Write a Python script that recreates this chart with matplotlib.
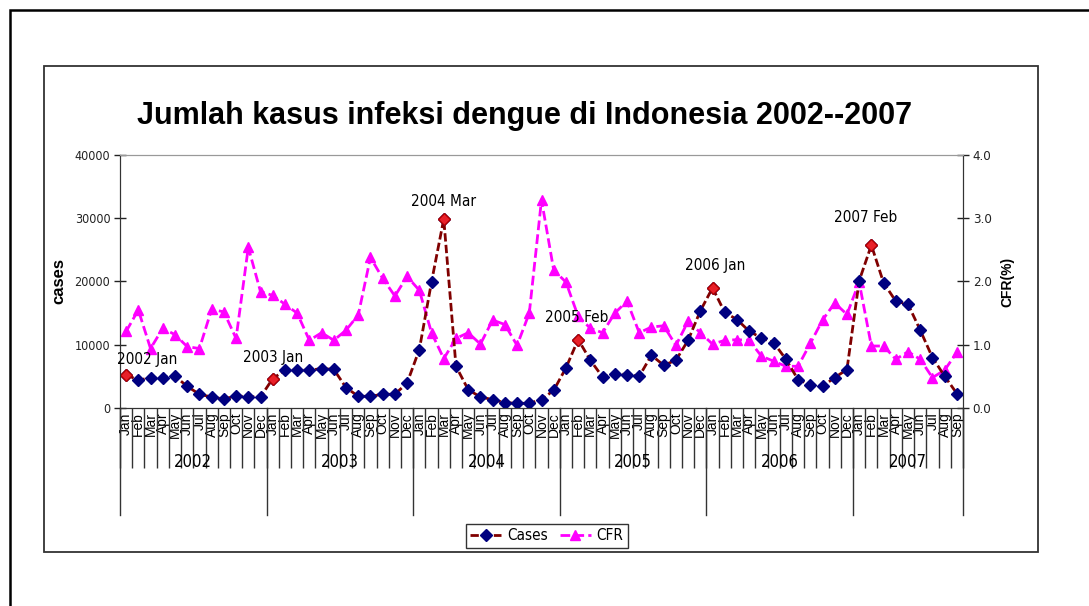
import matplotlib
matplotlib.use("Agg")
import matplotlib.pyplot as plt
import matplotlib.transforms as mtransforms
from matplotlib.patches import Rectangle
from matplotlib.lines import Line2D
import numpy as np

# ---------------- data ----------------
years = ["2002", "2003", "2004", "2005", "2006", "2007"]
months_per_year = [12, 12, 12, 12, 12, 9]
month_names = ["Jan", "Feb", "Mar", "Apr", "May", "Jun",
               "Jul", "Aug", "Sep", "Oct", "Nov", "Dec"]
month_labels = [m for n in months_per_year for m in month_names[:n]]

cases = [5290, 4380, 4810, 4810, 5020, 3430, 2170, 1740, 1420, 1900, 1800, 1740,
         4640, 5970, 5970, 5970, 6240, 6100, 3230, 1850, 1850, 2170, 2170, 3960,
         9240, 19950, 29870, 6600, 2900, 1740, 1330, 850, 740, 740, 1330, 2800,
         6330, 10830, 7550, 4900, 5440, 5290, 5020, 8340, 6760, 7550, 10710, 15350,
         19000, 15100, 13990, 12140, 11080, 10350, 7710, 4490, 3700, 3430, 4810, 6080,
         20100, 25750, 19790, 16890, 16410, 12300, 7980, 5020, 2280]

cfr = [1.21, 1.55, 0.94, 1.26, 1.16, 0.97, 0.94, 1.56, 1.52, 1.10, 2.54, 1.84,
       1.78, 1.64, 1.50, 1.07, 1.19, 1.07, 1.23, 1.47, 2.38, 2.05, 1.77, 2.08,
       1.86, 1.19, 0.78, 1.10, 1.19, 1.01, 1.39, 1.32, 0.99, 1.50, 3.29, 2.18,
       1.99, 1.45, 1.26, 1.19, 1.50, 1.69, 1.19, 1.28, 1.30, 0.99, 1.37, 1.19,
       1.01, 1.07, 1.08, 1.07, 0.82, 0.74, 0.66, 0.66, 1.02, 1.39, 1.66, 1.48,
       1.99, 0.98, 0.98, 0.77, 0.89, 0.77, 0.48, 0.60, 0.88]

peak_index = [0, 12, 26, 37, 48, 61]
peak_labels = ["2002 Jan", "2003 Jan", "2004 Mar", "2005 Feb", "2006 Jan", "2007 Feb"]

left_ticks = [0, 10000, 20000, 30000, 40000]
right_ticks = [0.0, 1.0, 2.0, 3.0, 4.0]

title = "Jumlah kasus infeksi dengue di Indonesia 2002--2007"

# ---------------- style ----------------
NARROW = ["Liberation Sans Narrow", "DejaVu Sans"]
ARIAL = ["Liberation Sans", "DejaVu Sans"]
label_offsets = [(15, 11), (0, 15), (0, 13), (-1, 16), (2, 16), (-4, 20)]

W, H = 1089, 606
fig = plt.figure(figsize=(W / 100, H / 100), dpi=100)

def fx(px):
    return px / W

def fy(py):
    return 1 - py / H

# outer frame (right and bottom edges lie outside the picture)
fig.patches.append(Rectangle((fx(10), fy(640)), fx(1120) - fx(10), fy(10) - fy(640),
                             transform=fig.transFigure, fill=False,
                             edgecolor="black", linewidth=1.8))
# inner chart frame
fig.patches.append(Rectangle((fx(44), fy(552)), fx(1038) - fx(44), fy(66) - fy(552),
                             transform=fig.transFigure, fill=False,
                             edgecolor="#333333", linewidth=1.3))

ax = fig.add_axes([fx(120), fy(408), fx(963) - fx(120), fy(155) - fy(408)])
ax2 = ax.twinx()
ax.set_zorder(ax2.get_zorder() + 1)
ax.patch.set_visible(False)

n = len(cases)
x = np.arange(n)

# CFR series
ax2.plot(x, cfr, color="#FF00FF", linestyle=(0, (3.5, 1.5)), linewidth=2.0,
         marker="^", markersize=7.5, markerfacecolor="#FF00FF",
         markeredgecolor="#FF00FF", label="CFR")
ax2.set_ylim(0, 4)
ax2.set_yticks(right_ticks)
ax2.set_yticklabels([f"{v:.1f}" for v in right_ticks], family=NARROW,
                    stretch="condensed", fontsize=9.5, color="#222222")
ax2.tick_params(axis="y", direction="inout", length=8, width=1, pad=3,
                colors="#222222")
ax2.set_ylabel("CFR(%)", fontsize=10, fontweight="bold", family=ARIAL,
               labelpad=6)

# Cases series
ax.plot(x, cases, color="#800000", linestyle=(0, (3, 1.2)), linewidth=2.0,
        marker="D", markersize=6, markerfacecolor="#000080",
        markeredgecolor="#000080", label="Cases")
ax.plot([x[i] for i in peak_index], [cases[i] for i in peak_index],
        linestyle="none", marker="D", markersize=6.5,
        markerfacecolor="#E8202A", markeredgecolor="#B00000")
for i, lab, off in zip(peak_index, peak_labels, label_offsets):
    ax.annotate(lab, xy=(x[i], cases[i]), xytext=off, textcoords="offset points",
                ha="center", va="center", family=NARROW, stretch="condensed",
                fontsize=11)

ax.set_ylim(0, 40000)
ax.set_xlim(-0.5, n - 0.5)
ax.set_yticks(left_ticks)
ax.set_yticklabels([str(v) for v in left_ticks], family=NARROW,
                   stretch="condensed", fontsize=9, color="#222222")
ax.tick_params(axis="y", direction="inout", length=8, width=1, pad=3,
               colors="#222222")
ax.set_ylabel("cases", fontsize=12, fontweight="bold", family=ARIAL, labelpad=6)

# month labels and separators
ax.set_xticks(x)
ax.set_xticklabels(month_labels, rotation=90, family=ARIAL, fontsize=10,
                   va="top", ha="center")
ax.tick_params(axis="x", which="major", length=0, pad=3)
ax.set_xticks(np.arange(n + 1) - 0.5, minor=True)
ax.tick_params(axis="x", which="minor", length=43, width=1, color="#333333",
               direction="out")

trans = mtransforms.blended_transform_factory(ax.transData, ax.transAxes)
bounds = np.concatenate([[0], np.cumsum(months_per_year)]) - 0.5
for b in bounds:
    ax.add_line(Line2D([b, b], [0, -107 / 253], transform=trans, color="#333333",
                       linewidth=1, clip_on=False))
for yr, a, b in zip(years, bounds[:-1], bounds[1:]):
    ax.annotate(yr, xy=((a + b) / 2, 0), xycoords=trans, xytext=(0, -39),
                textcoords="offset points", ha="center", va="center",
                family=NARROW, stretch="condensed", fontsize=12)

for side in ["left", "right", "bottom"]:
    ax.spines[side].set_color("#333333")
    ax2.spines[side].set_color("#333333")
ax.spines["top"].set_color("#999999")
ax2.spines["top"].set_color("#999999")

fig.text(fx(525), fy(116), title, ha="center", va="center", fontsize=22,
         fontweight="bold", family=ARIAL)

h1, l1 = ax.get_legend_handles_labels()
h2, l2 = ax2.get_legend_handles_labels()
leg = fig.legend(h1[:1] + h2, l1[:1] + l2, loc="center",
                 bbox_to_anchor=(fx(547), fy(536)), ncol=2, frameon=True,
                 fancybox=False, edgecolor="black",
                 prop={"family": NARROW, "stretch": "condensed", "size": 11},
                 handlelength=2.0, handletextpad=0.4, columnspacing=0.8,
                 borderpad=0.3)
leg.get_frame().set_linewidth(1)

fig.savefig("out.png", dpi=100)
